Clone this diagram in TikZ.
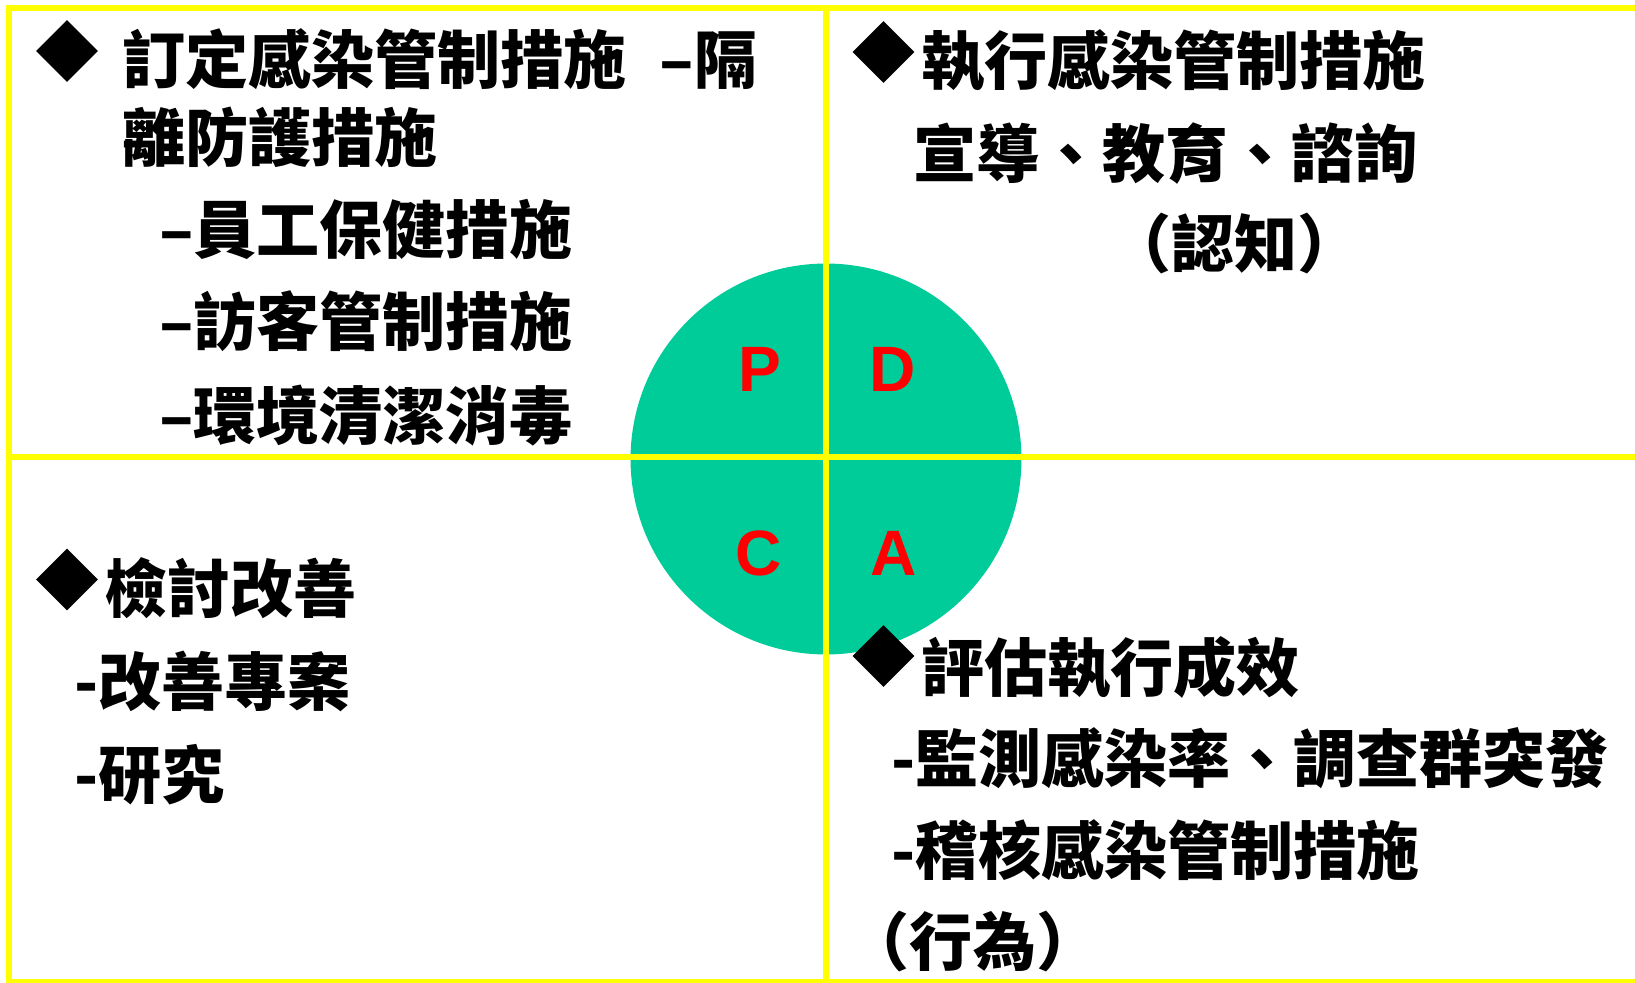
\documentclass[tikz,border=0pt]{standalone}
\usepackage{fontspec}
\usetikzlibrary{shapes.geometric}
\newfontfamily\cjk{Noto Sans CJK TC}
\newfontfamily\lat{Liberation Sans}
\definecolor{pgreen}{RGB}{0,204,153}
\definecolor{pyellow}{RGB}{255,255,0}
\definecolor{pred}{RGB}{255,0,0}
\begin{document}
\begin{tikzpicture}[x=0.02cm,y=-0.02cm,
  txt/.style={anchor=base west, inner sep=0pt, outer sep=0pt, font=\cjk\bfseries\fontsize{35.9pt}{40pt}\selectfont},
  ctxt/.style={txt, anchor=base},
  bullet/.style={diamond, fill=black, inner sep=0pt, minimum width=1.24cm, minimum height=1.24cm},
  letter/.style={anchor=base, inner sep=0pt, text=pred, font=\lat\bfseries\fontsize{36.5pt}{40pt}\selectfont},
  rule/.style={draw=pyellow, line width=0.12cm}]
\useasboundingbox (0,0) rectangle (1635,983);
\clip (0,0) rectangle (1635,983);
% PDCA circle
\node[circle, fill=pgreen, minimum size=7.82cm, inner sep=0pt] (cyc) at (826,459) {};
% frame and cross
\coordinate (ftl) at (9,8.5);
\coordinate (fbr) at (1640,982);
\coordinate (vtop) at (825.7,8.5);
\coordinate (vbot) at (825.7,982);
\coordinate (hl) at (9,457);
\coordinate (hr) at (1640,457);
\draw[rule] (ftl) rectangle (fbr);
\draw[rule] (vtop) -- (vbot);
\draw[rule] (hl) -- (hr);
% letters
\node[letter] (P) at (759.7,391) {P};
\node[letter] (D) at (892.7,391) {D};
\node[letter] (C) at (758.5,575.5) {C};
\node[letter] (A) at (893.5,575.3) {A};
% bullets
\node[bullet] (b1) at (67,51) {};
\node[bullet] (b2) at (883.5,52) {};
\node[bullet] (b3) at (67,579.5) {};
\node[bullet] (b4) at (883.5,656) {};
% top-left
\node[txt] (p1) at (122,84) {訂定感染管制措施 \hspace{0.3em}–隔};
\node[txt] (p2) at (122,161.5) {離防護措施};
\node[txt] (p3) at (159,254) {–員工保健措施};
\node[txt] (p4) at (159,345.5) {–訪客管制措施};
\node[txt] (p5) at (159,439) {–環境清潔消毒};
% top-right
\node[txt] (d1) at (921,85) {執行感染管制措施};
\node[txt] (d2) at (913,178) {宣導、教育、諮詢};
\node[ctxt] (d3) at (1234.5,267) {（認知）};
% bottom-left
\node[txt] (c1) at (104,612.6) {檢討改善};
\node[txt] (c2) at (74,705) {-改善專案};
\node[txt] (c3) at (74,798) {-研究};
% bottom-right
\node[txt] (a1) at (921,691) {評估執行成效};
\node[txt] (a2) at (891,782.5) {-監測感染率、調查群突發};
\node[txt] (a3) at (891,874) {-稽核感染管制措施};
\node[ctxt] (a4) at (973,965) {（行為）};
\end{tikzpicture}
\end{document}
